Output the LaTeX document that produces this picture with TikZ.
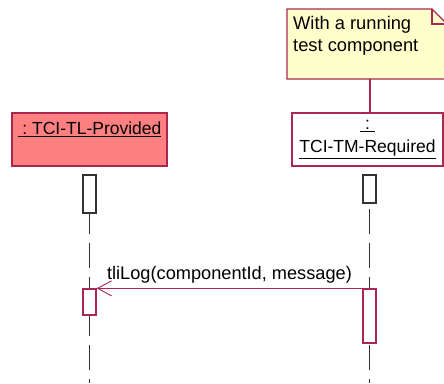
\documentclass[tikz,border=0pt]{standalone}
\usepackage{fontspec}
\setmainfont{Liberation Sans}
\usetikzlibrary{arrows.meta}
\definecolor{rosered}{RGB}{170,40,80}
\definecolor{notefill}{RGB}{255,255,204}
\definecolor{objfill}{RGB}{255,128,128}
\definecolor{lifegray}{RGB}{50,50,50}

\begin{document}
\begin{tikzpicture}[x=1pt,y=-1pt,
	font=\fontsize{17.5}{22}\selectfont,
	objbox/.style={draw=rosered, line width=1.3pt, minimum width=#1, minimum height=53pt, inner sep=0pt},
	actbox/.style={draw=#1, fill=white, line width=1.3pt, minimum width=13pt, inner sep=0pt},
	lifeline/.style={draw=lifegray, line width=1.3pt, dash pattern=on 25pt off 9pt, dash phase=25pt},
	msgarrow/.style={draw=rosered, line width=1.3pt, -{Straight Barb[length=14pt,width=15pt,line width=0.9pt]}}
]
\clip (0,0) rectangle (444,383);

\draw[draw=rosered, fill=notefill, line width=1.3pt] (287,9) -- (432,9) -- (447,24) -- (447,79) -- (287,79) -- cycle;
\draw[draw=rosered, line width=1.3pt] (432,9) -- (432,24) -- (447,24);
\node[anchor=north west, inner sep=0pt, align=left, font=\fontsize{18.3}{22}\selectfont] (notetext) at (293,16) {With a running\\test component};
\coordinate (notefoot) at (370,79);

\node[objbox=155pt, fill=objfill] (tl) at (89.5,139.5) {};
\node[inner sep=0pt] (tllabel) at (89.5,129) {\underline{\ :\ TCI-TL-Provided}};
\node[objbox=151pt, fill=white, align=center] (tm) at (367.5,139.5) {\underline{\ :\ }\\[1pt]\underline{TCI-TM-Required}};
\draw[draw=rosered, line width=1.3pt] (notefoot) -- (370,113);

\coordinate (tlend) at (89.5,383);
\coordinate (tmend) at (369.5,383);
\draw[lifeline] (89.5,166) -- (tlend);
\draw[lifeline] (369.5,166) -- (tmend);

\node[actbox=lifegray, minimum height=38pt] (la1) at (89.5,194) {};
\node[actbox=lifegray, minimum height=28pt] (ra1) at (369.5,189) {};
\node[actbox=rosered, minimum height=26pt] (la2) at (89.5,302) {};
\node[actbox=rosered, minimum height=54pt] (ra2) at (369.5,316) {};

\draw[msgarrow] (ra2.north west) -- node[above=4pt, text=black, inner sep=0pt, font=\fontsize{18.2}{22}\selectfont] (msg) {tliLog(componentId, message)} (la2.north east);
\end{tikzpicture}
\end{document}
